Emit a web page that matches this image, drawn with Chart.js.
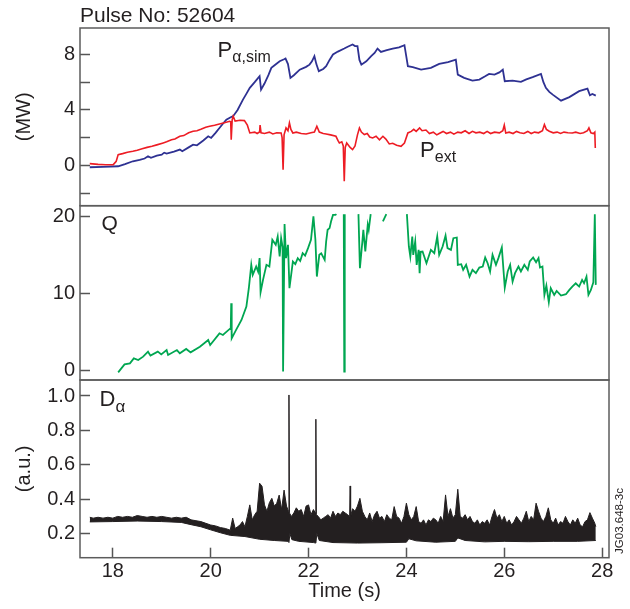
<!DOCTYPE html>
<html><head><meta charset="utf-8">
<script src="https://cdn.jsdelivr.net/npm/chart.js@4/dist/chart.umd.min.js"></script>
<style>
html,body{margin:0;padding:0;background:#fff;}
#wrap{position:relative;width:630px;height:609px;}
#wrap canvas{position:absolute;left:0;top:0;}
</style></head><body>
<div id="wrap">
<canvas id="c1" width="630" height="609"></canvas>
<canvas id="c2" width="630" height="609"></canvas>
<canvas id="c3" width="630" height="609"></canvas>
</div>
<script>
// ---------------- DATA ----------------
const pulseTitle = 'Pulse No: 52604';
const xTicks = [18, 20, 22, 24, 26, 28];
const p1Ticks = [-2, 0, 2, 4, 6, 8];
const p1Labelled = [0, 4, 8];
const p2Ticks = [0, 10, 20];
const p3Ticks = [0.2, 0.4, 0.6, 0.8, 1.0];

// P_alpha,sim (MW)
const pAlphaTime = [17.53,17.8,18.11,18.25,18.41,18.55,18.65,18.72,18.78,18.9,19.0,19.05,19.1,19.25,19.37,19.42,19.55,19.64,19.72,19.85,19.95,20.01,20.1,20.18,20.25,20.32,20.4,20.46,20.55,20.66,20.72,20.8,20.9,21.0,21.03,21.1,21.18,21.24,21.3,21.41,21.5,21.53,21.58,21.63,21.7,21.82,21.95,22.02,22.07,22.12,22.16,22.21,22.3,22.36,22.43,22.5,22.6,22.73,22.8,22.9,22.95,23.0,23.04,23.08,23.18,23.28,23.35,23.41,23.48,23.6,23.72,23.85,23.96,24.0,24.03,24.13,24.3,24.5,24.67,24.85,25.01,25.05,25.18,25.35,25.49,25.6,25.69,25.8,25.9,25.97,26.01,26.17,26.34,26.45,26.58,26.75,26.8,26.85,26.92,26.99,27.16,27.33,27.53,27.7,27.75,27.8,27.87];
const pAlphaVal = [-0.13,-0.1,-0.06,0.1,0.3,0.4,0.5,0.66,0.55,0.7,0.78,0.92,0.85,1.0,1.14,1.02,1.3,1.5,1.45,1.8,2.1,1.98,2.35,2.7,3.0,3.3,3.45,3.55,4.0,4.74,5.1,5.59,6.0,6.43,5.46,5.9,6.5,7.03,7.2,7.51,7.65,7.7,7.3,6.31,6.5,6.9,7.1,7.26,7.5,7.87,7.3,6.79,6.95,7.15,7.6,7.99,8.2,8.42,8.55,8.71,8.6,8.59,7.6,7.26,7.5,7.87,8.1,8.42,8.18,8.3,8.42,8.5,8.66,7.8,7.15,7.08,6.9,7.03,7.32,7.45,7.62,6.54,6.31,6.11,6.18,6.4,6.59,6.54,6.7,6.9,6.07,6.11,6.02,6.2,6.36,6.59,6.0,5.59,5.3,5.1,4.67,4.92,5.35,5.53,5.06,5.15,5.03];

// P_ext (MW)
const pExtTime = [17.53,17.7,17.85,18.01,18.07,18.11,18.2,18.3,18.41,18.5,18.6,18.7,18.8,18.9,19.03,19.1,19.2,19.27,19.37,19.45,19.55,19.64,19.72,19.8,19.9,19.98,20.08,20.18,20.28,20.39,20.41,20.42,20.44,20.46,20.5,20.6,20.69,20.75,20.8,20.9,20.95,21.0,21.01,21.03,21.1,21.2,21.27,21.35,21.44,21.46,21.48,21.5,21.54,21.58,21.61,21.64,21.68,21.75,21.85,21.95,22.05,22.12,22.17,22.22,22.3,22.36,22.45,22.56,22.6,22.63,22.68,22.71,22.73,22.75,22.78,22.85,22.9,22.95,23.0,23.04,23.08,23.14,23.2,23.25,23.31,23.38,23.45,23.52,23.58,23.65,23.72,23.8,23.89,23.96,24.03,24.1,24.15,24.2,24.27,24.32,24.4,24.47,24.55,24.62,24.67,24.75,24.82,24.9,24.97,25.05,25.12,25.2,25.28,25.35,25.42,25.5,25.58,25.65,25.72,25.8,25.9,25.97,26.0,26.03,26.1,26.18,26.25,26.32,26.4,26.48,26.55,26.62,26.7,26.78,26.82,26.86,26.92,27.0,27.08,27.15,27.22,27.3,27.39,27.46,27.55,27.62,27.7,27.73,27.77,27.82,27.85,27.86];
const pExtVal = [0.13,0.08,0.05,0.06,0.3,0.78,0.85,0.95,1.02,1.1,1.2,1.3,1.38,1.48,1.62,1.7,1.85,1.9,2.1,2.15,2.35,2.46,2.5,2.6,2.75,2.82,2.9,2.99,3.08,3.18,3.15,1.86,3.3,3.55,3.2,3.25,3.23,2.9,2.34,2.4,2.3,2.41,2.9,2.35,2.3,2.4,2.27,2.35,2.34,2.0,-0.3,2.2,2.7,2.5,3.06,2.6,2.34,2.4,2.3,2.27,2.35,2.4,2.82,2.4,2.3,2.27,2.2,2.1,1.8,1.62,1.7,1.4,-1.14,1.3,1.62,1.3,1.14,1.4,2.2,2.7,2.4,2.22,2.3,2.05,1.98,2.1,1.85,2.1,1.9,1.55,1.6,1.45,1.38,1.62,2.34,2.45,2.6,2.45,2.7,2.5,2.55,2.3,2.4,2.2,2.3,2.45,2.3,2.4,2.25,2.4,2.35,2.5,2.3,2.46,2.35,2.4,2.3,2.45,2.3,2.4,2.35,2.5,2.9,2.34,2.4,2.3,2.45,2.35,2.3,2.45,2.3,2.4,2.35,2.5,2.94,2.6,2.46,2.35,2.4,2.3,2.4,2.35,2.34,2.4,2.3,2.35,2.5,2.7,2.35,2.3,2.4,1.26];

// Q (null = off scale)
const qTime = [18.11,18.24,18.35,18.43,18.52,18.62,18.72,18.77,18.92,18.99,19.1,19.13,19.31,19.37,19.5,19.59,19.78,19.95,19.99,20.18,20.25,20.39,20.41,20.42,20.43,20.52,20.63,20.73,20.78,20.83,20.86,20.93,20.97,21.0,21.02,21.07,21.14,21.2,21.26,21.33,21.37,21.41,21.44,21.47,21.48,21.49,21.51,21.54,21.58,21.61,21.68,21.73,21.78,21.83,21.88,21.93,21.99,22.05,22.1,22.14,22.17,22.22,22.26,22.33,22.36,22.39,22.43,22.46,22.5,22.55,22.57,22.64,22.72,22.73,22.74,22.9,23.02,23.05,23.1,23.12,23.16,23.21,23.23,23.27,23.4,23.52,23.59,23.8,24.01,24.05,24.08,24.12,24.14,24.18,24.21,24.25,24.27,24.29,24.33,24.41,24.5,24.57,24.63,24.67,24.74,24.8,24.84,24.91,24.96,25.03,25.05,25.12,25.16,25.22,25.29,25.35,25.42,25.49,25.56,25.61,25.66,25.71,25.76,25.83,25.88,25.95,26.01,26.07,26.12,26.17,26.22,26.29,26.34,26.41,26.48,26.52,26.59,26.65,26.7,26.73,26.78,26.82,26.86,26.91,26.95,27.02,27.07,27.16,27.26,27.33,27.39,27.46,27.53,27.59,27.63,27.68,27.72,27.77,27.82,27.85,27.87];
const qVal = [-0.3,0.74,0.87,1.52,1.3,1.74,2.39,1.87,2.39,2.04,2.6,1.96,2.6,2.17,2.74,2.3,3.04,3.91,3.26,4.78,4.56,5.35,5.3,8.7,4.13,5.22,6.52,8.26,10.65,13.7,12.39,13.48,12.8,14.57,10.13,11.74,13.7,13.48,16.96,16.3,17.39,14.78,17.17,16.0,-0.2,-0.2,19.0,14.57,16.3,10.65,14.13,13.8,14.57,14.2,15.22,14.9,15.87,16.96,20.0,17.0,12.17,15.0,15.2,14.35,16.74,18.26,18.48,19.35,20.2,20.2,20.3,null,20.3,-0.2,20.3,null,20.3,13.26,16.74,18.26,15.43,18.91,18.26,20.3,null,19.35,20.3,null,20.3,16.09,14.78,17.39,15.0,16.74,13.7,15.65,12.6,15.4,15.43,13.91,15.65,15.22,17.39,15.0,16.09,17.52,15.87,15.65,17.17,17.26,13.7,13.78,13.04,13.7,12.17,13.04,12.61,13.35,13.48,14.65,13.91,12.83,15.0,13.7,14.57,15.96,10.74,12.83,13.7,11.52,12.61,13.48,12.83,13.7,13.04,14.13,14.65,14.04,14.57,13.35,13.48,9.78,11.0,8.83,10.65,9.78,10.3,9.7,9.87,10.43,10.87,11.3,10.87,11.74,11.3,12.17,9.78,10.43,11.43,20.3,11.09];

// D_alpha (a.u.): upper and lower envelope of the dense trace
const dTime = [17.53,17.6,17.7,17.8,17.9,18.0,18.1,18.2,18.3,18.4,18.5,18.6,18.7,18.8,18.9,19.0,19.1,19.2,19.3,19.4,19.5,19.6,19.7,19.8,19.9,20.0,20.1,20.2,20.3,20.4,20.45,20.5,20.55,20.6,20.65,20.7,20.75,20.8,20.85,20.9,20.95,21.0,21.05,21.1,21.15,21.2,21.25,21.3,21.35,21.4,21.45,21.5,21.55,21.59,21.6,21.61,21.65,21.7,21.75,21.8,21.85,21.9,21.95,22.0,22.05,22.1,22.14,22.15,22.16,22.2,22.25,22.3,22.35,22.4,22.45,22.5,22.55,22.6,22.65,22.7,22.75,22.8,22.84,22.85,22.86,22.9,22.95,23.0,23.05,23.1,23.15,23.2,23.25,23.3,23.35,23.4,23.45,23.5,23.55,23.6,23.65,23.7,23.75,23.8,23.85,23.9,23.95,24.0,24.05,24.1,24.15,24.2,24.25,24.3,24.35,24.4,24.45,24.5,24.55,24.6,24.65,24.7,24.75,24.8,24.85,24.9,24.95,25.0,25.05,25.1,25.15,25.2,25.25,25.3,25.35,25.4,25.45,25.5,25.55,25.6,25.65,25.7,25.75,25.8,25.85,25.9,25.95,26.0,26.05,26.1,26.15,26.2,26.25,26.3,26.35,26.4,26.45,26.5,26.55,26.6,26.65,26.7,26.75,26.8,26.85,26.9,26.95,27.0,27.05,27.1,27.15,27.2,27.25,27.3,27.35,27.4,27.45,27.5,27.55,27.6,27.65,27.7,27.75,27.8,27.85,27.87];
const dHi = [0.295,0.29,0.295,0.29,0.295,0.29,0.3,0.295,0.3,0.295,0.305,0.3,0.295,0.3,0.295,0.3,0.295,0.29,0.295,0.29,0.295,0.28,0.275,0.27,0.26,0.25,0.245,0.235,0.23,0.22,0.29,0.23,0.24,0.25,0.27,0.24,0.3,0.367,0.28,0.31,0.33,0.493,0.475,0.367,0.33,0.38,0.405,0.36,0.376,0.424,0.34,0.453,0.36,0.33,1.006,0.32,0.3,0.32,0.35,0.33,0.34,0.3,0.36,0.367,0.31,0.34,0.32,0.865,0.31,0.3,0.28,0.29,0.3,0.31,0.29,0.33,0.3,0.32,0.31,0.33,0.32,0.31,0.3,0.477,0.3,0.345,0.33,0.36,0.405,0.33,0.3,0.28,0.32,0.27,0.31,0.33,0.29,0.3,0.27,0.31,0.29,0.28,0.357,0.3,0.29,0.26,0.3,0.377,0.31,0.28,0.3,0.357,0.27,0.26,0.28,0.25,0.28,0.27,0.29,0.28,0.26,0.3,0.27,0.425,0.3,0.345,0.29,0.31,0.458,0.3,0.29,0.31,0.28,0.3,0.27,0.26,0.28,0.25,0.27,0.26,0.28,0.25,0.3,0.34,0.29,0.31,0.27,0.3,0.26,0.28,0.25,0.27,0.3,0.28,0.26,0.29,0.33,0.27,0.3,0.28,0.377,0.33,0.29,0.27,0.3,0.35,0.28,0.26,0.29,0.25,0.27,0.26,0.3,0.27,0.25,0.28,0.26,0.29,0.25,0.24,0.27,0.28,0.322,0.29,0.26,0.24];
const dLoTime = [17.53,18.0,18.5,19.0,19.4,19.6,19.8,20.0,20.2,20.4,20.7,21.0,21.3,21.58,21.6,21.62,21.66,21.8,22.1,22.15,22.17,22.22,22.5,23.0,23.5,24.0,24.05,24.2,24.6,25.0,25.05,25.2,25.6,26.0,26.5,27.0,27.5,27.87];
const dLo = [0.268,0.27,0.273,0.27,0.265,0.252,0.24,0.222,0.205,0.19,0.183,0.167,0.16,0.155,0.148,0.2,0.165,0.155,0.148,0.145,0.2,0.16,0.148,0.145,0.147,0.15,0.17,0.158,0.15,0.155,0.175,0.16,0.152,0.155,0.153,0.155,0.155,0.16];

// ---------------- STYLE / LAYOUT ----------------
const W = 630, H = 609, PLOT_L = 80, PLOT_R = 609;
const PANEL_TOP = [28, 205.7, 380];
const PANEL_BOT = [205.7, 380, 557.7];
const X_MIN = 17.33, X_MAX = 28.14;
const FONT = '"Liberation Sans", Arial, Helvetica, sans-serif';
const INK = '#231f20';
Chart.defaults.font.family = FONT;
Chart.defaults.font.size = 20;
Chart.defaults.color = INK;

const zip = (xs, ys) => xs.map((x, i) => ({x: x, y: ys[i]}));

const framePlugin = {
  id: 'frame',
  afterDraw(chart) {
    const a = chart.chartArea, ctx = chart.ctx;
    ctx.save();
    ctx.strokeStyle = '#5c5c5c';
    ctx.lineWidth = 1.5;
    ctx.strokeRect(a.left, a.top, a.right - a.left, a.bottom - a.top);
    ctx.restore();
  }
};

const notesPlugin = {
  id: 'notes',
  afterDraw(chart, args, opts) {
    const ctx = chart.ctx, xs = chart.scales.x, ys = chart.scales.y, a = chart.chartArea;
    ctx.save();
    ctx.fillStyle = INK;
    ctx.textBaseline = 'alphabetic';
    ctx.textAlign = 'left';
    (opts.items || []).forEach(it => {
      let x, y;
      if (it.px !== undefined) { x = a.left + it.px; y = a.top + it.py; }
      else { x = xs.getPixelForValue(it.x); y = ys.getPixelForValue(it.y); }
      ctx.font = it.size + 'px ' + FONT;
      if (it.rotate) {
        ctx.save();
        ctx.translate(x, y);
        ctx.rotate(-Math.PI / 2);
        ctx.textAlign = 'center';
        ctx.fillText(it.text, 0, 0);
        ctx.restore();
        return;
      }
      ctx.fillText(it.text, x, y);
      if (it.sub) {
        const w = ctx.measureText(it.text).width;
        ctx.font = it.subSize + 'px ' + FONT;
        ctx.fillText(it.sub, x + w, y + it.subDy);
      }
    });
    ctx.restore();
  }
};

function yScale(min, max, ticks, fmt, title) {
  return {
    type: 'linear', position: 'left', min: min, max: max,
    afterFit: s => { s.width = PLOT_L; },
    afterBuildTicks: s => { s.ticks = ticks.map(v => ({value: v})); },
    ticks: { padding: 15, color: INK, font: {size: 20}, callback: fmt },
    grid: { drawOnChartArea: false, drawTicks: true, tickLength: -10, tickColor: '#555', tickWidth: 1.5 },
    border: { display: false },
    title: title ? { display: true, text: title, color: INK, font: {size: 20}, padding: {top: 12, bottom: 0} } : { display: false }
  };
}

function xScale(show) {
  const s = {
    type: 'linear', position: 'bottom', min: X_MIN, max: X_MAX,
    display: show
  };
  if (show) {
    s.afterFit = sc => { sc.height = H - PANEL_BOT[2]; };
    s.afterBuildTicks = sc => { sc.ticks = xTicks.map(v => ({value: v})); };
    s.ticks = { padding: 12, color: INK, font: {size: 20}, maxRotation: 0, autoSkip: false };
    s.grid = { drawOnChartArea: false, drawTicks: true, tickLength: -10, tickColor: '#555', tickWidth: 1.5 };
    s.border = { display: false };
    s.title = { display: true, text: 'Time (s)', color: INK, font: {size: 20}, padding: {top: 0, bottom: 6} };
  }
  return s;
}

function baseOpts(i, scales, items) {
  return {
    responsive: false, animation: false, events: [],
    layout: { padding: { left: 0, right: W - PLOT_R, top: PANEL_TOP[i], bottom: i === 2 ? 0 : H - PANEL_BOT[i] } },
    plugins: { legend: {display: false}, tooltip: {enabled: false}, title: {display: false}, notes: { items: items } },
    elements: { point: { radius: 0 }, line: { tension: 0 } },
    scales: scales
  };
}

// Panel 1: powers
new Chart(document.getElementById('c1'), {
  type: 'line',
  data: { datasets: [
    { label: 'P_ext', data: zip(pExtTime, pExtVal), borderColor: '#ed1c24', borderWidth: 1.6, fill: false },
    { label: 'P_alpha,sim', data: zip(pAlphaTime, pAlphaVal), borderColor: '#2e3192', borderWidth: 1.8, fill: false }
  ]},
  options: baseOpts(0, {
    x: xScale(false),
    y: yScale(-2.9, 9.9, p1Ticks, v => p1Labelled.includes(v) ? String(v) : '', '(MW)')
  }, [
    { text: pulseTitle, px: 0, py: -6, size: 21 },
    { text: 'P', x: 20.14, y: 7.82, size: 22, sub: 'α,sim', subSize: 16, subDy: 5 },
    { text: 'P', x: 24.28, y: 0.63, size: 22, sub: 'ext', subSize: 16, subDy: 5 }
  ]),
  plugins: [framePlugin, notesPlugin]
});

// Panel 2: Q
new Chart(document.getElementById('c2'), {
  type: 'line',
  data: { datasets: [
    { label: 'Q', data: zip(qTime, qVal), borderColor: '#00a651', borderWidth: 1.8, fill: false, spanGaps: false }
  ]},
  options: baseOpts(1, {
    x: xScale(false),
    y: yScale(-1.3, 21.4, p2Ticks, v => String(v), null)
  }, [
    { text: 'Q', x: 17.77, y: 18.3, size: 21 }
  ]),
  plugins: [framePlugin, notesPlugin]
});

// Panel 3: D_alpha
new Chart(document.getElementById('c3'), {
  type: 'line',
  data: { datasets: [
    { label: 'D_alpha low', data: zip(dLoTime, dLo), borderColor: INK, borderWidth: 1, fill: false },
    { label: 'D_alpha', data: zip(dTime, dHi), borderColor: INK, borderWidth: 1, fill: '-1', backgroundColor: INK }
  ]},
  options: baseOpts(2, {
    x: xScale(true),
    y: yScale(0.06, 1.093, p3Ticks, v => v.toFixed(1), '(a.u.)')
  }, [
    { text: 'D', x: 17.73, y: 0.942, size: 22, sub: 'α', subSize: 17, subDy: 6 },
    { text: 'JG03.648-3c', px: 543, py: 141, size: 11.5, rotate: true }
  ]),
  plugins: [framePlugin, notesPlugin]
});
</script>
</body></html>
